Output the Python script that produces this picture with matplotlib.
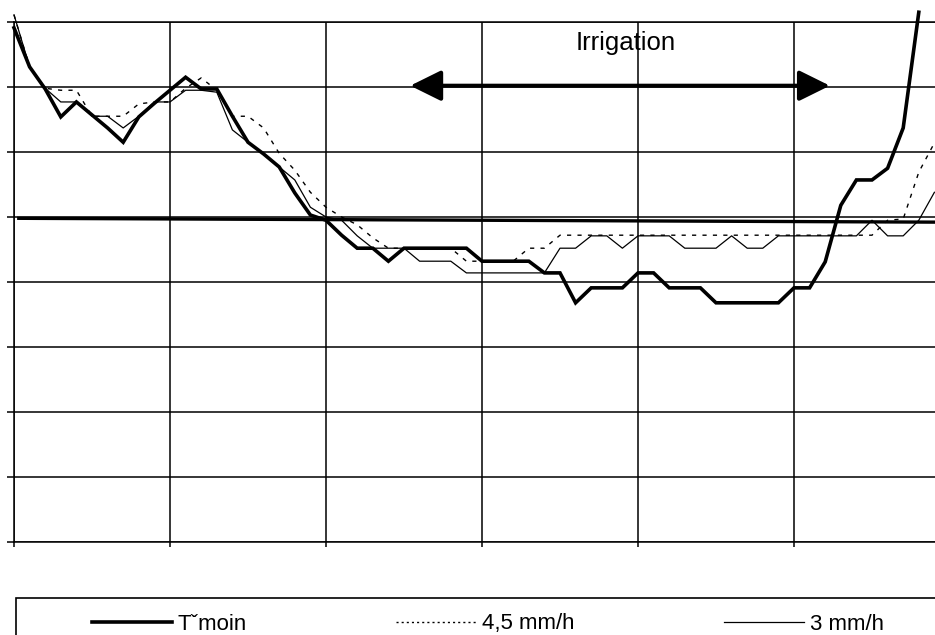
import matplotlib
matplotlib.use("Agg")
import matplotlib.pyplot as plt
from matplotlib.patches import Rectangle, FancyArrowPatch

plt.rcParams['font.family'] = ['Liberation Sans', 'DejaVu Sans']

# ---- data (one sample per step, 10 steps per grid cell) ----
temoin = [7.91, 7.31, 6.97, 6.54, 6.77, 6.57, 6.37, 6.15, 6.54, 6.75,
          6.95, 7.15, 6.97, 6.97, 6.55, 6.15, 5.97, 5.77, 5.37, 5.03,
          4.95, 4.72, 4.52, 4.52, 4.32, 4.52, 4.52, 4.52, 4.52, 4.52,
          4.32, 4.32, 4.32, 4.32, 4.14, 4.14, 3.68, 3.91, 3.91, 3.91,
          4.14, 4.14, 3.91, 3.91, 3.91, 3.68, 3.68, 3.68, 3.68, 3.68,
          3.91, 3.91, 4.31, 5.18, 5.57, 5.57, 5.75, 6.37, 8.15]

dose_45 = [8.11, 7.31, 6.98, 6.95, 6.95, 6.55, 6.55, 6.55, 6.74, 6.77,
           6.77, 6.98, 7.14, 6.95, 6.55, 6.55, 6.37, 5.98, 5.72, 5.38,
           5.15, 5.00, 4.88, 4.68, 4.52, 4.52, 4.52, 4.52, 4.52, 4.32,
           4.32, 4.32, 4.32, 4.52, 4.52, 4.72, 4.72, 4.72, 4.72, 4.72,
           4.72, 4.72, 4.72, 4.72, 4.72, 4.72, 4.72, 4.72, 4.72, 4.72,
           4.72, 4.72, 4.72, 4.72, 4.72, 4.72, 4.95, 4.97, 5.69, 6.14]

dose_3 = [8.11, 7.31, 6.98, 6.77, 6.77, 6.55, 6.55, 6.37, 6.55, 6.77,
          6.77, 6.95, 6.95, 6.92, 6.34, 6.15, 5.97, 5.77, 5.57, 5.15,
          5.00, 4.95, 4.71, 4.52, 4.52, 4.52, 4.32, 4.32, 4.32, 4.14,
          4.14, 4.14, 4.14, 4.14, 4.14, 4.52, 4.52, 4.71, 4.71, 4.52,
          4.71, 4.71, 4.71, 4.52, 4.52, 4.52, 4.71, 4.52, 4.52, 4.71,
          4.71, 4.71, 4.71, 4.71, 4.71, 4.95, 4.71, 4.71, 4.95, 5.38]

seuil_x = [0.2, 60.0]
seuil_y = [4.98, 4.92]

irrigation_start, irrigation_end, irrigation_level = 25.4, 52.3, 7.02
irrigation_label = "Irrigation"

labels = ["T\u02c7moin", "4,5 mm/h", "3 mm/h"]

x_ticks = list(range(0, 61, 10))
y_ticks = list(range(0, 9))

# ---- figure ----
W, H = 935, 635
fig = plt.figure(figsize=(W / 100, H / 100), dpi=100)
ax = fig.add_axes([14 / W, (H - 542) / H, 936 / W, 520 / H])
ax.set_xlim(0, 60)
ax.set_ylim(0, 8)
ax.set_xticks(x_ticks)
ax.set_yticks(y_ticks)
ax.set_xticklabels([])
ax.set_yticklabels([])
ax.tick_params(axis='y', direction='out', length=5, width=1.1, color='black')
ax.tick_params(axis='x', direction='out', length=3.6, width=1.1, color='black')
ax.grid(True, color='black', linewidth=1.1)
ax.set_axisbelow(True)
for s in ax.spines.values():
    s.set_linewidth(1.1)
    s.set_color('black')
ax.spines['right'].set_visible(False)

x_t = list(range(len(temoin)))
x_45 = list(range(len(dose_45)))
x_3 = list(range(len(dose_3)))

ax.plot(seuil_x, seuil_y, color='black', linewidth=2.4, solid_capstyle='butt', zorder=3)
l3, = ax.plot(x_3, dose_3, color='black', linewidth=0.9, zorder=4, clip_on=False)
l45, = ax.plot(x_45, dose_45, color='black', linewidth=1.0, linestyle=(0, (3.0, 4.5)),
               zorder=4, clip_on=False)
lt, = ax.plot(x_t, temoin, color='black', linewidth=2.6, zorder=5, clip_on=False,
              solid_joinstyle='miter')

arrow = FancyArrowPatch((irrigation_start, irrigation_level), (irrigation_end, irrigation_level),
                        arrowstyle='<|-|>,head_length=19,head_width=9.4',
                        mutation_scale=1, color='black', linewidth=2.9,
                        shrinkA=0, shrinkB=0, zorder=6)
ax.add_patch(arrow)
ax.text(39.2, 7.68, irrigation_label, ha='center', va='center', fontsize=18.5, color='black')

# ---- legend ----
leg = fig.legend([lt, l45, l3], labels, ncol=3, frameon=False, loc='center left',
                 bbox_to_anchor=(92 / W, (H - 624) / H), fontsize=16,
                 handlelength=3.6, handletextpad=0.27, columnspacing=6.7,
                 borderpad=0, borderaxespad=0)
leg.get_lines()[1].set_linestyle((0, (1.5, 2.2)))
fig.add_artist(Rectangle((16 / W, -0.2), 1.0, (H - 598) / H + 0.2, transform=fig.transFigure,
                         fill=False, edgecolor='black', linewidth=1.2))

fig.savefig("out.png", dpi=100)
